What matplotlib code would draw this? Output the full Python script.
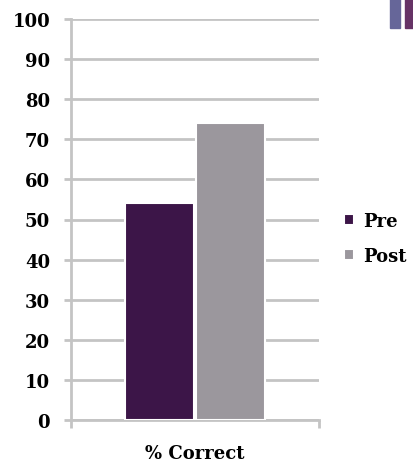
import matplotlib
matplotlib.use("Agg")
import matplotlib.pyplot as plt
from matplotlib.patches import Rectangle
import numpy as np

categories = ["% Correct"]
series_names = ["Pre", "Post"]
pre_values = [54]
post_values = [74]
y_ticks = [0, 10, 20, 30, 40, 50, 60, 70, 80, 90, 100]

colors = ["#3c1548", "#9b979d"]
grid_c = "#c4c4c4"
font = ["DejaVu Serif"]
fs = 13

fig = plt.figure(figsize=(4.14, 4.64), dpi=100)
ax = fig.add_axes([71/414, 43/464, 248/414, 401/464])

x = np.arange(len(categories))
w = 0.28
for off, vals, c, name in zip([-0.143, 0.143], [pre_values, post_values], colors, series_names):
    ax.bar(x + off, vals, width=w, color=c, edgecolor="white", linewidth=1.5, label=name, zorder=3)

ax.set_xlim(-0.5, 0.5)
ax.set_ylim(0, 100)
ax.set_yticks(y_ticks)
ax.set_yticklabels([str(v) for v in y_ticks], family=font, fontweight="bold", fontsize=fs)
ax.yaxis.grid(True, color=grid_c, linewidth=2.0, zorder=0)
ax.tick_params(axis="y", length=5, width=2.0, color=grid_c, pad=10)

ax.set_xticks(x)
ax.set_xticklabels(categories, family=font, fontweight="bold", fontsize=fs)
ax.tick_params(axis="x", which="major", length=0, pad=17)
ax.set_xticks([-0.5, 0.5], minor=True)
ax.tick_params(axis="x", which="minor", length=6, width=2.0, color=grid_c, direction="out")

for s in ["top", "right"]:
    ax.spines[s].set_visible(False)
for s in ["left", "bottom"]:
    ax.spines[s].set_color(grid_c)
    ax.spines[s].set_linewidth(2.0)

leg = ax.legend(loc="center left", bbox_to_anchor=(1.034, 0.452), frameon=False,
                prop={"family": font[0], "weight": "bold", "size": fs},
                handlelength=0.55, handleheight=0.55, handletextpad=0.5, labelspacing=0.95)

# decorative corner marks
fig.patches.append(Rectangle((390/414, 1-29/464), 10/414, 29/464, transform=fig.transFigure,
                             color="#666699", zorder=5))
fig.patches.append(Rectangle((405/414, 1-29/464), 9/414, 29/464, transform=fig.transFigure,
                             color="#663366", zorder=5))

fig.savefig("out.png", dpi=100)
